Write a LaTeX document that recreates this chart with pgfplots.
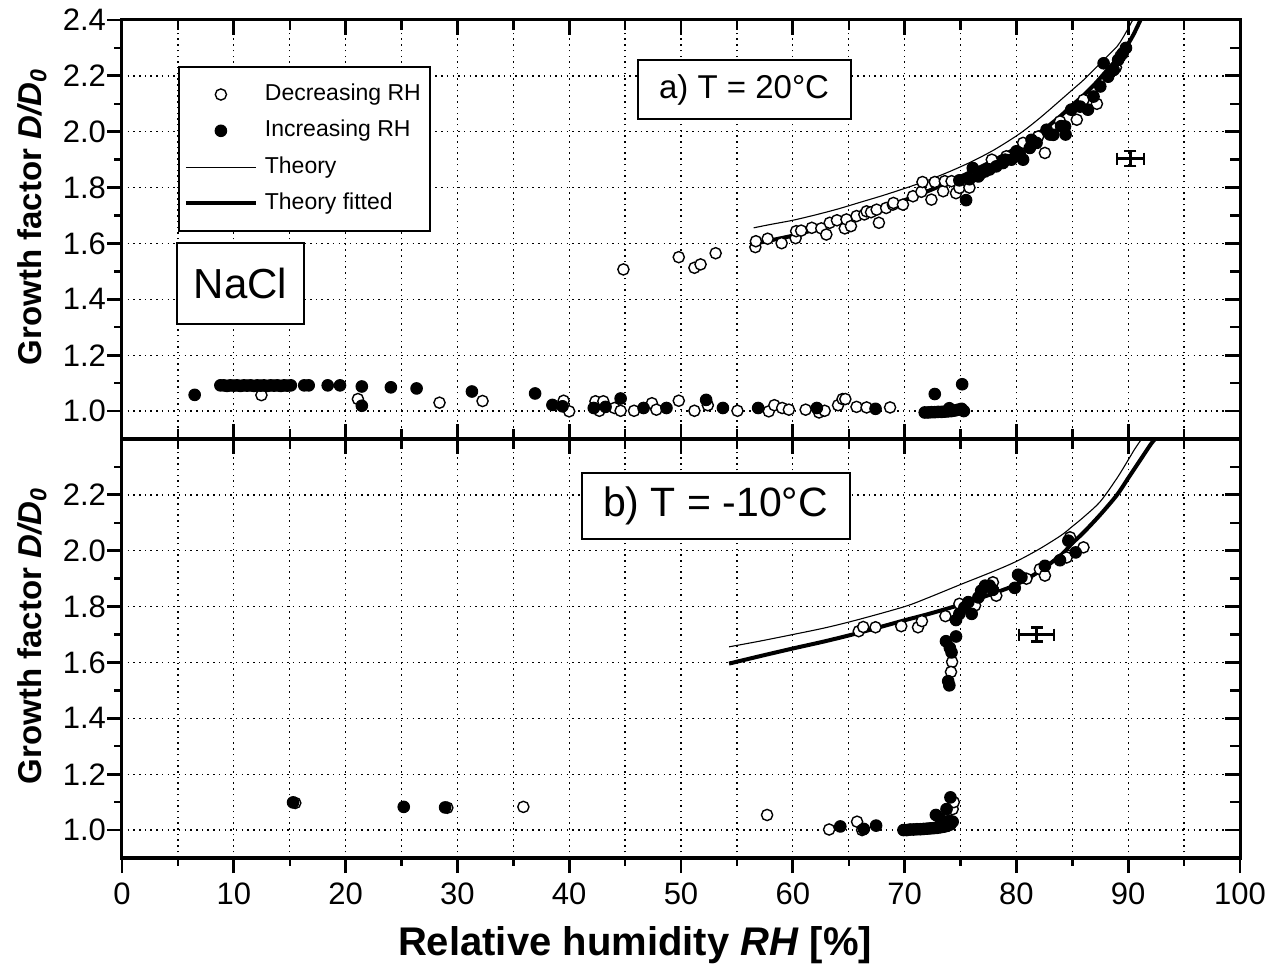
\documentclass[border=0pt]{standalone}
\usepackage{fontspec}
\setmainfont{Liberation Sans}
\usepackage{pgfplots}
\pgfplotsset{compat=1.18}
\tikzset{textbox/.style={draw=black, line width=1pt, fill=white, align=center, inner sep=0pt}}
\pgfplotsset{
  base/.style={scale only axis, width=559pt, height=209.5pt,
    xmin=0, xmax=100, ymin=0.9, ymax=2.4,
    axis line style={line width=1.5pt},
    xtick={0,10,...,100}, minor xtick={5,15,...,95},
    major tick style={black, line width=1.4pt},
    minor tick style={black, line width=1.2pt}},
  topy/.style={ytick={1.0,1.2,1.4,1.6,1.8,2.0,2.2,2.4}, minor ytick={1.1,1.3,1.5,1.7,1.9,2.1,2.3}},
  boty/.style={ytick={1.0,1.2,1.4,1.6,1.8,2.0,2.2}, minor ytick={1.1,1.3,1.5,1.7,1.9,2.1,2.3}},
  dataaxis/.style={base, major tick length=0pt, minor tick length=0pt,
    xmajorgrids, xminorgrids, ymajorgrids,
    grid style={black, line width=0.65pt, dash pattern=on 0.75pt off 2.1pt},
    minor grid style={black, line width=0.65pt, dash pattern=on 0.75pt off 2.1pt},
    yticklabel style={font=\fontsize{15.5}{15.5}\selectfont, xshift=-4.5pt, /pgf/number format/.cd, fixed, fixed zerofill, precision=1, assume math mode=true},
    ylabel={Growth factor \textit{D/D}\textsubscript{\textit{0}}},
    ylabel style={font=\bfseries\fontsize{16.5}{16.5}\selectfont, at={(axis description cs:-0.0805,0.53)}, anchor=center}},
  open/.style={only marks, mark=*, mark size=2.8pt, mark options={fill=white, draw=black, line width=0.7pt}},
  filled/.style={only marks, mark=*, mark size=2.9pt, mark options={fill=black, draw=black, line width=0.5pt}},
  thinline/.style={black, line width=0.55pt, mark=none, smooth},
  thickline/.style={black, line width=2pt, mark=none, smooth},
  ebh/.style={forget plot, black, line width=1.3pt, mark=|, mark size=3pt, mark options={line width=1.3pt}},
  ebv/.style={forget plot, black, line width=1.3pt, mark=-, mark size=3pt, mark options={line width=1.3pt}},
}
\begin{document}
\begin{tikzpicture}
\path[use as bounding box] (-61pt,-56pt) rectangle (577pt,429pt);
% ---------------- bottom panel ----------------
\begin{axis}[dataaxis, boty, at={(0pt,0pt)}, anchor=south west,
  xticklabel style={font=\fontsize{15.5}{15.5}\selectfont, yshift=-9pt, /pgf/number format/assume math mode=true},
  xlabel={Relative humidity \textit{RH} [\%]},
  xlabel style={font=\bfseries\fontsize{20}{20}\selectfont, at={(axis description cs:0.459,-0.2076)}, anchor=center}]
\addplot[open] coordinates {(15.5,1.097)(29.1,1.080)(35.9,1.083)(57.7,1.054)(63.25,1.002)(65.75,1.030)(66.2,1.000)(74.3,1.075)(74.4,1.100)
(65.9,1.712)(66.3,1.727)(67.4,1.726)(69.7,1.730)(71.2,1.726)(71.55,1.748)(73.65,1.766)(74.25,1.602)(74.15,1.566)(74.9,1.810)(76.3,1.804)(77.9,1.887)(78.2,1.839)(80.9,1.900)(82.1,1.934)(82.55,1.911)(84.5,1.976)(84.8,2.048)(86.0,2.012)};
\addplot[filled] coordinates {(15.3,1.099)(25.2,1.083)(28.9,1.081)(64.25,1.013)(66.35,1.004)(67.45,1.016)
(69.9,1.000)(70.2,1.000)(70.5,1.002)(70.8,1.002)(71.1,1.003)(71.4,1.003)(71.7,1.004)(72.0,1.005)(72.3,1.006)(72.6,1.007)(72.9,1.008)(73.2,1.010)(73.5,1.012)(73.8,1.015)(74.1,1.020)(74.3,1.030)(72.8,1.054)(73.2,1.040)(73.75,1.075)(74.1,1.117)(74.0,1.033)
(73.7,1.676)(74.05,1.652)(74.2,1.636)(74.6,1.693)(73.9,1.533)(74.0,1.518)(74.6,1.752)(74.9,1.774)(75.35,1.797)(75.7,1.816)(76.0,1.774)(76.6,1.833)(76.85,1.857)(77.2,1.875)(77.6,1.875)(77.9,1.860)(79.85,1.867)(80.15,1.914)(80.45,1.905)(82.55,1.946)(83.9,1.966)(84.65,2.036)(85.3,1.994)};
\addplot[thinline] coordinates {(54.3,1.656)(57,1.676)(60,1.700)(63,1.725)(66,1.755)(70,1.800)(72,1.830)(75,1.879)(78,1.927)(80,1.962)(82,2.005)(84,2.055)(85,2.087)(86,2.120)(87.5,2.176)(89,2.260)(90,2.325)(90.6,2.365)(91.2,2.400)};
\addplot[thickline] coordinates {(54.3,1.596)(57,1.622)(60,1.650)(63,1.677)(66,1.707)(70,1.751)(72,1.772)(75,1.807)(78,1.848)(80,1.879)(82,1.925)(84,1.985)(85,2.027)(86,2.065)(87.5,2.129)(89,2.200)(90,2.260)(91,2.320)(92,2.380)(92.4,2.400)};
\addplot[ebh] coordinates {(80.25,1.70)(83.35,1.70)};
\addplot[ebv] coordinates {(81.8,1.674)(81.8,1.726)};
\node[textbox, minimum width=134pt, minimum height=33pt, font=\fontsize{20.5}{20.5}\selectfont] at (axis cs:53.09,2.161) {b) T = -10°C};
\end{axis}
\begin{axis}[base, boty, at={(0pt,0pt)}, anchor=south west, tick pos=left, tick align=outside,
  major tick length=7.5pt, minor tick length=4pt, xticklabels={}, yticklabels={}]
\end{axis}
\begin{axis}[base, boty, at={(0pt,0pt)}, anchor=south west, tick pos=right, tick align=inside,
  major tick length=7.5pt, minor tick length=5pt, xticklabels={}, yticklabels={}]
\end{axis}
% ---------------- top panel ----------------
\begin{axis}[dataaxis, topy, at={(0pt,209.5pt)}, anchor=south west, xticklabels={},
  legend image code/.code={\draw[mark repeat=2,mark phase=2,#1] plot coordinates {(0pt,0pt) (17.5pt,0pt) (35pt,0pt)};},
  legend style={at={(axis cs:5,2.236)}, anchor=north west, draw=black, line width=1pt, fill=white,
    font=\fontsize{11.5}{11.5}\selectfont, inner xsep=2.5pt, inner ysep=6.5pt, row sep=3.45pt, column sep=1.5pt,
    nodes={inner sep=2pt, text height=8.3pt, text depth=2.4pt}},
  legend cell align=left]
\addplot[open] coordinates {(12.47,1.057)(21.1,1.043)(28.4,1.030)(32.25,1.036)(39.5,1.037)(40.0,0.999)(42.35,1.035)(43.05,1.035)(42.7,1.001)(44.05,1.011)(44.6,1.001)(45.8,1.001)(47.4,1.028)(47.8,1.005)(49.8,1.037)(51.2,1.001)(52.4,1.021)(55.05,1.001)(57.85,0.999)(58.35,1.021)(59.05,1.011)(59.65,1.005)(61.15,1.005)(62.35,0.995)(62.85,1.001)(64.05,1.021)(64.45,1.043)(64.7,1.043)(65.7,1.015)(66.6,1.013)(68.7,1.013)
(44.85,1.507)(49.8,1.551)(51.2,1.513)(51.75,1.525)(53.1,1.565)
(56.65,1.587)(56.7,1.608)(57.75,1.617)(59.0,1.601)(60.25,1.619)(60.3,1.644)(60.75,1.646)(61.7,1.656)(62.55,1.654)(63.0,1.632)(63.3,1.674)(63.95,1.683)(64.65,1.654)(64.8,1.686)(65.2,1.662)(65.7,1.698)(66.4,1.704)(66.6,1.715)(67.0,1.712)(67.5,1.721)(67.7,1.674)(68.35,1.727)(68.95,1.739)(69.0,1.745)(69.85,1.739)(70.75,1.769)(71.5,1.785)(71.6,1.82)(72.4,1.757)(72.7,1.82)(73.45,1.787)(73.6,1.823)(74.2,1.823)(74.6,1.78)(74.9,1.799)(75.8,1.80)(77.8,1.90)(79.1,1.912)(80.6,1.96)(81.95,1.983)(82.55,1.924)(83.9,2.037)(85.4,2.043)(86.0,2.114)(87.2,2.10)(88.9,2.23)(89.3,2.27)};
\addlegendentry{Decreasing RH}
\addplot[filled] coordinates {(6.5,1.058)(8.8,1.092)(9.1,1.092)(9.4,1.090)(9.7,1.092)(10.0,1.091)(10.3,1.092)(10.6,1.090)(10.9,1.092)(11.2,1.091)(11.5,1.092)(11.8,1.090)(12.1,1.092)(12.4,1.091)(12.7,1.092)(13.0,1.090)(13.3,1.092)(13.6,1.091)(13.9,1.092)(14.2,1.090)(14.5,1.092)(14.8,1.091)(15.1,1.092)(16.3,1.092)(16.7,1.092)(18.4,1.092)(19.5,1.092)(21.45,1.088)(21.45,1.019)(24.05,1.085)(26.35,1.081)(31.3,1.070)(36.95,1.063)(38.5,1.022)(39.4,1.017)(42.2,1.011)(43.25,1.015)(44.6,1.045)(46.65,1.011)(48.7,1.011)(52.25,1.040)(53.75,1.011)(56.9,1.011)(62.15,1.011)(67.4,1.008)
(71.8,0.995)(72.1,0.995)(72.4,0.996)(72.7,0.996)(73.0,0.997)(73.3,0.997)(73.6,0.998)(73.9,0.999)(74.2,1.000)(74.5,1.002)(74.8,1.005)(75.1,1.008)(75.3,1.000)(74.0,1.010)(72.7,1.061)(75.15,1.096)
(74.9,1.826)(75.5,1.755)(75.8,1.83)(76.1,1.87)(76.6,1.84)(76.8,1.85)(77.2,1.858)(77.6,1.865)(78.2,1.876)(78.8,1.888)(79.0,1.90)(79.55,1.90)(80.0,1.93)(80.3,1.92)(80.6,1.90)(81.2,1.942)(81.35,1.971)(81.8,1.96)(82.7,2.007)(83.0,1.99)(83.3,1.989)(84.0,2.02)(84.35,2.019)(84.4,1.99)(84.9,2.079)(85.7,2.09)(86.4,2.079)(86.9,2.126)(87.5,2.162)(87.8,2.245)(88.2,2.197)(88.7,2.221)(89.1,2.257)(89.5,2.28)(89.8,2.30)};
\addlegendentry{Increasing RH}
\addplot[thinline] coordinates {(56.5,1.656)(58,1.668)(60,1.683)(62,1.702)(64,1.723)(66,1.747)(68,1.771)(70,1.797)(72,1.825)(74,1.857)(76,1.893)(78,1.935)(80,1.985)(81,2.014)(82,2.046)(83,2.080)(84,2.115)(85,2.150)(86,2.185)(87,2.225)(88,2.265)(89,2.305)(89.5,2.335)(90,2.370)(90.4,2.400)};
\addlegendentry{Theory}
\addplot[thickline] coordinates {(56.7,1.600)(58,1.611)(60,1.628)(62,1.650)(64,1.673)(66,1.700)(68,1.727)(70,1.755)(72,1.786)(74,1.820)(76,1.858)(78,1.898)(80,1.942)(82,1.995)(83,2.025)(84,2.058)(85,2.095)(86,2.130)(87,2.170)(88,2.215)(89,2.260)(89.5,2.285)(90,2.315)(90.5,2.350)(91.1,2.400)};
\addlegendentry{Theory fitted}
\addplot[ebh] coordinates {(89.0,1.904)(91.4,1.904)};
\addplot[ebv] coordinates {(90.2,1.877)(90.2,1.931)};
\node[textbox, minimum width=106.5pt, minimum height=29.5pt, font=\fontsize{16.5}{16.5}\selectfont] at (axis cs:55.64,2.15) {a) T = 20°C};
\node[textbox, minimum width=63.5pt, minimum height=40.5pt, font=\fontsize{21}{21}\selectfont] at (axis cs:10.6,1.455) {NaCl};
\end{axis}
\begin{axis}[base, topy, at={(0pt,209.5pt)}, anchor=south west, xtick=\empty, minor xtick={}, ytick pos=left, tick align=outside,
  major tick length=7.5pt, minor tick length=4pt, xticklabels={}, yticklabels={}]
\end{axis}
\begin{axis}[base, topy, at={(0pt,209.5pt)}, anchor=south west, xtick pos=both, ytick pos=right, tick align=inside,
  major tick length=7.5pt, minor tick length=5pt, xticklabels={}, yticklabels={}]
\end{axis}
\end{tikzpicture}
\end{document}
